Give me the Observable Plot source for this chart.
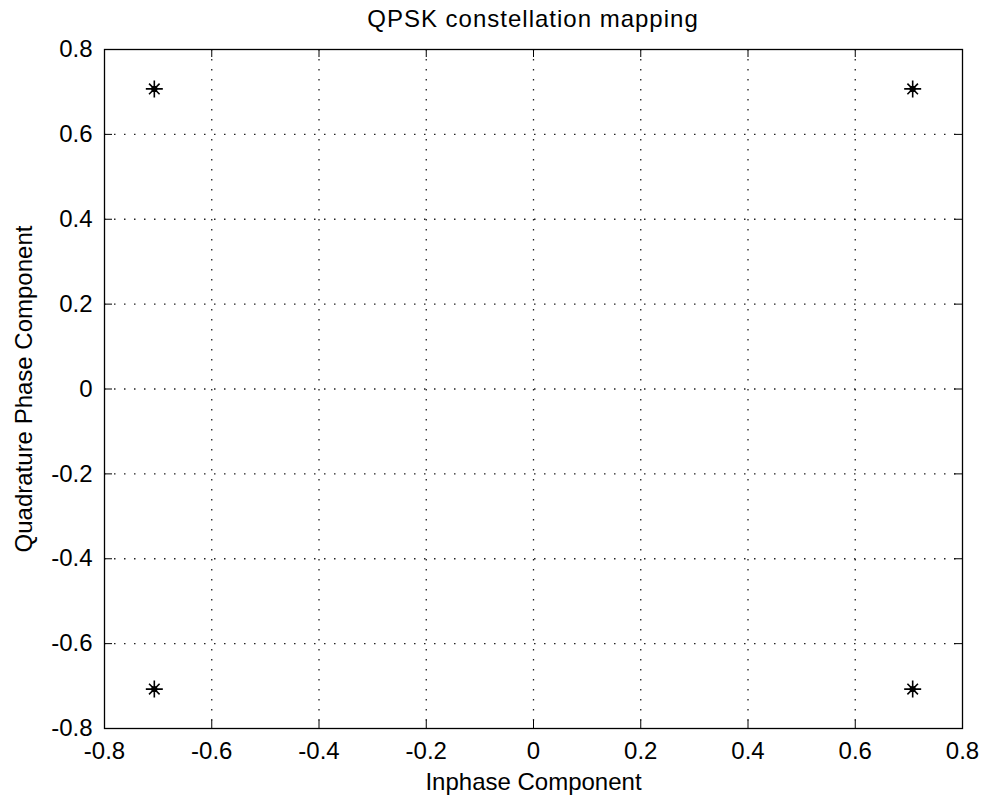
<!DOCTYPE html>
<html>
<head>
<meta charset="utf-8">
<script src="https://cdn.jsdelivr.net/npm/d3@7"></script>
<script src="https://cdn.jsdelivr.net/npm/@observablehq/plot@0.6"></script>
<style>
  html, body { margin: 0; padding: 0; background: #fff; }
  body { position: relative; }
  #title { position: absolute; top: 0; left: 104px; width: 858px; height: 38px; line-height: 38px; text-align: center;
    font-family: "Liberation Sans", Arial, sans-serif; font-size: 24px; letter-spacing: 1px; color: #000; }
  #chart { padding-top: 28px; }
</style>
</head>
<body>
<div id="title">QPSK constellation mapping</div>
<div id="chart"></div>
<script>
const inphase = [-0.7071, 0.7071, -0.7071, 0.7071];
const quadrature = [0.7071, 0.7071, -0.7071, -0.7071];
const xTicks = [-0.8, -0.6, -0.4, -0.2, 0, 0.2, 0.4, 0.6, 0.8];
const yTicks = [-0.8, -0.6, -0.4, -0.2, 0, 0.2, 0.4, 0.6, 0.8];
const tickLabels = ["-0.8", "-0.6", "-0.4", "-0.2", "0", "0.2", "0.4", "0.6", "0.8"];
const xLabel = "Inphase Component";
const yLabel = "Quadrature Phase Component";

const points = inphase.map((x, i) => ({x, y: quadrature[i]}));

const width = 982, height = 770;
const marginTop = 21, marginBottom = 70, marginLeft = 104, marginRight = 20;
const H = height - marginTop - marginBottom;
const W = width - marginLeft - marginRight;
const tickLen = 8;

const asterisk = {
  draw(context, size) {
    const r = Math.sqrt(size / Math.PI);
    const d = r * 0.62;
    context.moveTo(-r, 0); context.lineTo(r, 0);
    context.moveTo(0, -r); context.lineTo(0, r);
    context.moveTo(-d, -d); context.lineTo(d, d);
    context.moveTo(-d, d); context.lineTo(d, -d);
    context.moveTo(2.4, 0);
    context.arc(0, 0, 2.4, 0, 2 * Math.PI);
  }
};

const fmt = (ticks) => (d) => tickLabels[ticks.findIndex(t => Math.abs(t - d) < 1e-9)];
const grid = {stroke: "#222", strokeWidth: 1.3, strokeDasharray: "1.5,8.5"};

const chart = Plot.plot({
  width, height, marginTop, marginBottom, marginLeft, marginRight,
  style: {fontSize: "24px", fontFamily: "'Liberation Sans', Arial, sans-serif", background: "#fff", color: "#000"},
  x: {domain: [-0.8, 0.8], ticks: xTicks, tickFormat: fmt(xTicks), tickSize: 0, tickPadding: 13, label: null},
  y: {domain: [-0.8, 0.8], ticks: yTicks, tickFormat: fmt(yTicks), tickSize: 0, tickPadding: 12, label: null},
  marks: [
    Plot.ruleX(xTicks.slice(1, -1), {x: d => d, ...grid}),
    Plot.ruleY(yTicks.slice(1, -1), {y: d => d, ...grid}),
    Plot.ruleX(xTicks, {x: d => d, insetTop: H - tickLen, stroke: "#000"}),
    Plot.ruleX(xTicks, {x: d => d, insetBottom: H - tickLen, stroke: "#000"}),
    Plot.ruleY(yTicks, {y: d => d, insetRight: W - tickLen, stroke: "#000"}),
    Plot.ruleY(yTicks, {y: d => d, insetLeft: W - tickLen, stroke: "#000"}),
    Plot.frame({stroke: "#000", strokeWidth: 1.3}),
    Plot.axisX({ticks: xTicks, tickFormat: fmt(xTicks), tickSize: 0, tickPadding: 13, label: null}),
    Plot.axisY({ticks: yTicks, tickFormat: fmt(yTicks), tickSize: 0, tickPadding: 12, label: null}),
    Plot.text([xLabel], {text: d => d, frameAnchor: "bottom", dy: 61, fill: "#000"}),
    Plot.text([yLabel], {text: d => d, frameAnchor: "left", textAnchor: "middle", dx: -80, rotate: -90, fill: "#000"}),
    Plot.dot(points, {x: "x", y: "y", symbol: asterisk, r: 8.5, stroke: "#000", fill: "#000", strokeWidth: 1.6})
  ]
});
document.getElementById("chart").appendChild(chart);
</script>
</body>
</html>
